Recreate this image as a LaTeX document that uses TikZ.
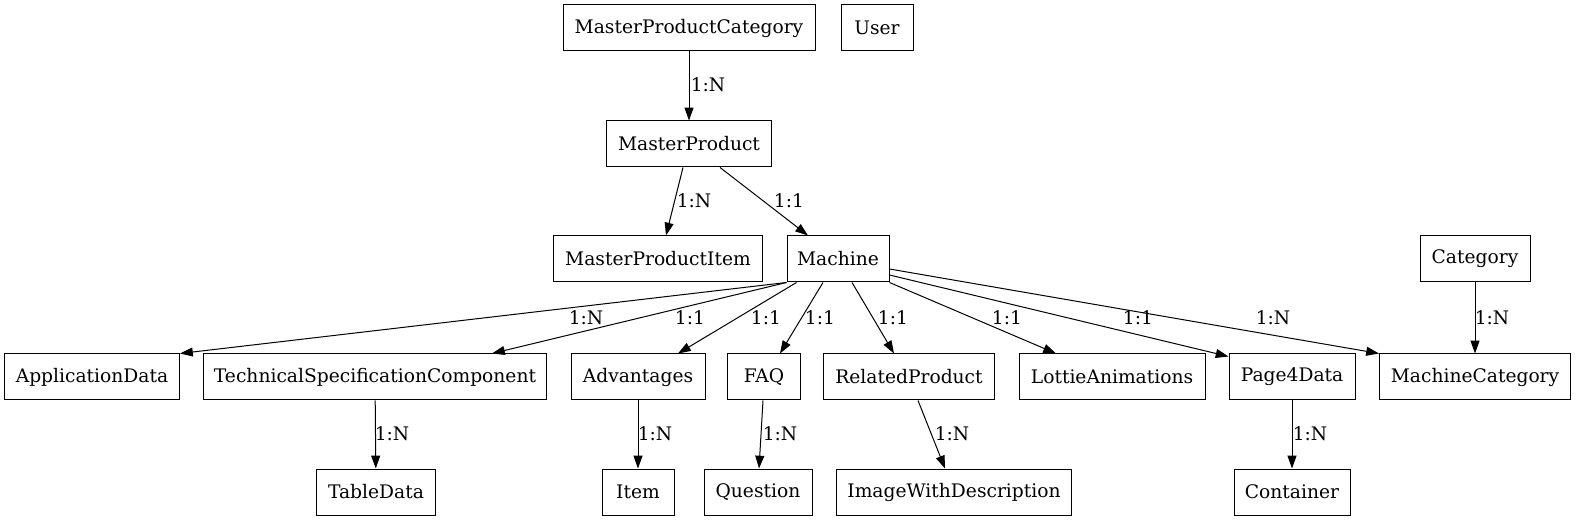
\documentclass[tikz,border=0pt]{standalone}
\usepackage{fontspec}
\setmainfont{DejaVu Serif}
\usetikzlibrary{arrows.meta,calc}
\begin{document}
\begin{tikzpicture}[x=.75pt,y=-.75pt,line width=.75pt,font=\fontsize{14pt}{16pt}\selectfont,
	ent/.style={draw,rectangle,inner sep=0pt,minimum height=34.5pt,minimum width=#1*.75pt},
	rel/.style={-{Triangle[length=9.6pt,width=6.7pt]}},
	card/.style={inner sep=0pt}]
	\useasboundingbox(0,0)rectangle(1576,523);
	\node[ent=252](MasterProductCategory)at(689,28){MasterProductCategory};
	\node[ent=72](User)at(877,28){User};
	\node[ent=165](MasterProduct)at(689,144){MasterProduct};
	\node[ent=209](MasterProductItem)at(658,259){MasterProductItem};
	\node[ent=102](Machine)at(838,259){Machine};
	\node[ent=110](Category)at(1475,259){Category};
	\node[ent=175](ApplicationData)at(92,377){ApplicationData};
	\node[ent=343](TechnicalSpecificationComponent)at(375,377){TechnicalSpecificationComponent};
	\node[ent=134](Advantages)at(638,377){Advantages};
	\node[ent=73](FAQ)at(764,377){FAQ};
	\node[ent=171](RelatedProduct)at(909,377){RelatedProduct};
	\node[ent=186](LottieAnimations)at(1112,377){LottieAnimations};
	\node[ent=126](Page4Data)at(1292,377){Page4Data};
	\node[ent=191](MachineCategory)at(1475,377){MachineCategory};
	\node[ent=119](TableData)at(376,492){TableData};
	\node[ent=72](Item)at(638,492){Item};
	\node[ent=108](Question)at(758,492){Question};
	\node[ent=235](ImageWithDescription)at(954,492){ImageWithDescription};
	\node[ent=116](Container)at(1292,492){Container};
	\draw[rel](MasterProductCategory)--(MasterProduct);
	\draw[rel]($(MasterProduct.south)+(-6,0)$)--($(MasterProductItem.north)+(8,0)$);
	\draw[rel]($(MasterProduct.south)+(31,0)$)--($(Machine.north)+(-30,0)$);
	\draw[rel](Machine.south west)--(ApplicationData.north east);
	\draw[rel](Machine.south west)--($(TechnicalSpecificationComponent.north)+(117,0)$);
	\draw[rel]($(Machine.south west)+(10,0)$)--($(Advantages.north)+(40,0)$);
	\draw[rel]($(Machine.south)+(-15,0)$)--($(FAQ.north)+(16,0)$);
	\draw[rel]($(Machine.south)+(14,0)$)--($(RelatedProduct.north)+(-15,0)$);
	\draw[rel](Machine.south east)--($(LottieAnimations.north)+(-56,0)$);
	\draw[rel]($(Machine.east)+(0,16)$)--($(Page4Data.north west)+(0,3)$);
	\draw[rel]($(Machine.east)+(0,10)$)--(MachineCategory.north west);
	\draw[rel](Category)--(MachineCategory);
	\draw[rel](TechnicalSpecificationComponent)--(TableData);
	\draw[rel](Advantages)--(Item);
	\draw[rel]($(FAQ.south)+(-1,0)$)--($(Question.north)+(1,0)$);
	\draw[rel]($(RelatedProduct.south)+(9,0)$)--($(ImageWithDescription.north)+(-9,0)$);
	\draw[rel](Page4Data)--(Container);
	\node[card](cMP)at(708,85){1:N};
	\node[card](cMPI)at(694,201){1:N};
	\node[card](cMachine)at(789,201){1:1};
	\node[card](cAD)at(586,318){1:N};
	\node[card](cTSC)at(690,318){1:1};
	\node[card](cAdv)at(766,318){1:1};
	\node[card](cFAQ)at(820,318){1:1};
	\node[card](cRP)at(893,318){1:1};
	\node[card](cLA)at(1007,318){1:1};
	\node[card](cP4D)at(1138,318){1:1};
	\node[card](cMC)at(1273,318){1:N};
	\node[card](cCat)at(1492,318){1:N};
	\node[card](cTD)at(392,434){1:N};
	\node[card](cItem)at(655,434){1:N};
	\node[card](cQ)at(780,434){1:N};
	\node[card](cIWD)at(952,434){1:N};
	\node[card](cCont)at(1310,434){1:N};
\end{tikzpicture}
\end{document}
